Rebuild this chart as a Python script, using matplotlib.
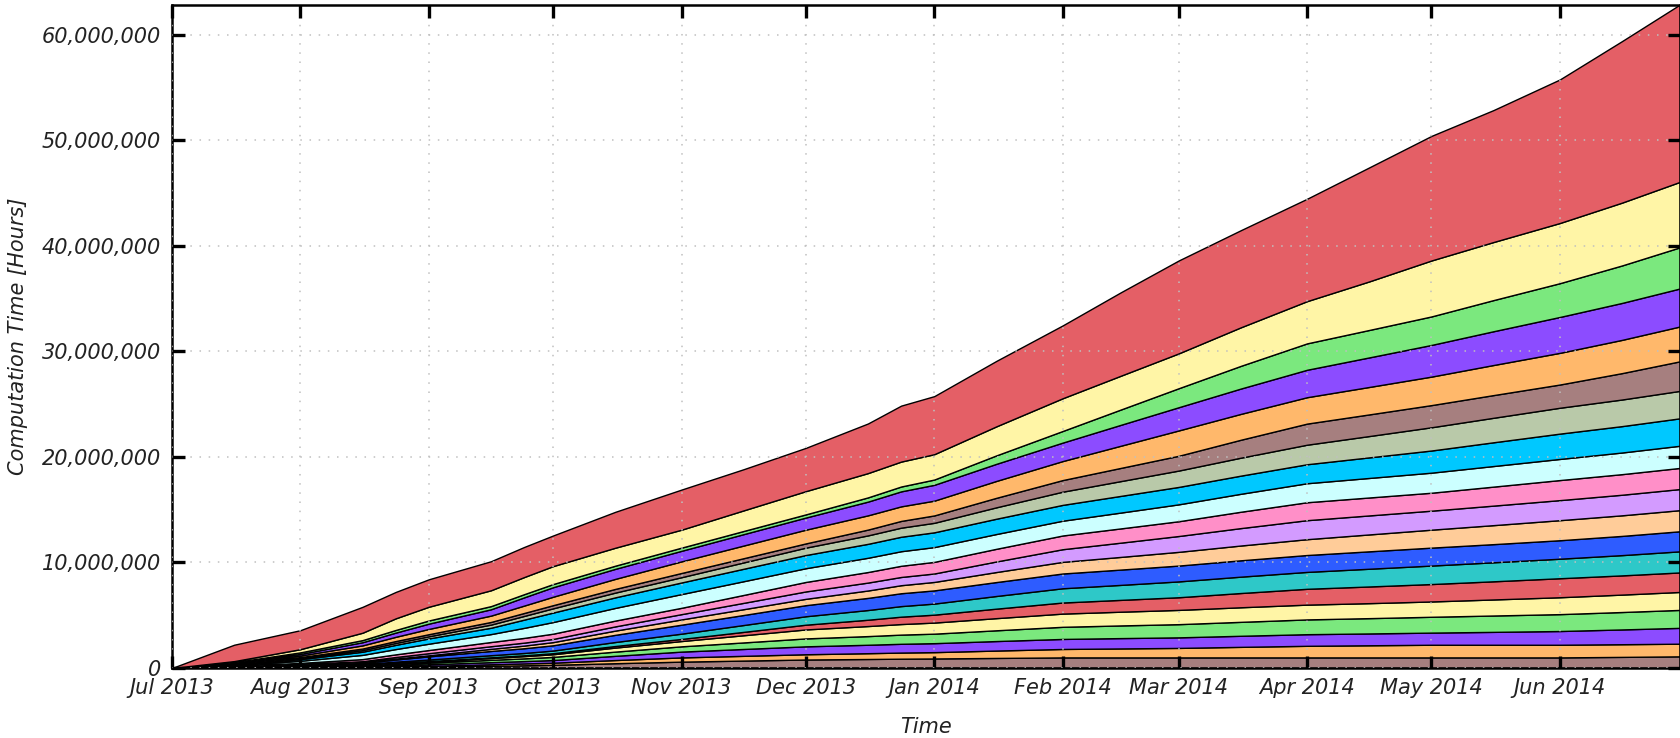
import datetime as dt
import matplotlib
matplotlib.use("Agg")
import matplotlib.pyplot as plt
import matplotlib.dates as mdates
import matplotlib.ticker as mticker
import numpy as np

# sample dates (roughly twice a month, a few extra where the curve bends)
dates = [dt.date(2013, 7, 1), dt.date(2013, 7, 16), dt.date(2013, 8, 1), dt.date(2013, 8, 16),
         dt.date(2013, 8, 24), dt.date(2013, 9, 1), dt.date(2013, 9, 16), dt.date(2013, 9, 24),
         dt.date(2013, 10, 1), dt.date(2013, 10, 16), dt.date(2013, 11, 1), dt.date(2013, 11, 16),
         dt.date(2013, 12, 1), dt.date(2013, 12, 16), dt.date(2013, 12, 24), dt.date(2014, 1, 1),
         dt.date(2014, 1, 16), dt.date(2014, 2, 1), dt.date(2014, 2, 15), dt.date(2014, 3, 1),
         dt.date(2014, 3, 16), dt.date(2014, 4, 1), dt.date(2014, 4, 16), dt.date(2014, 5, 1),
         dt.date(2014, 5, 16), dt.date(2014, 6, 1), dt.date(2014, 6, 16), dt.date(2014, 6, 30)]

# cumulative hours per series, in millions (bottom layer first)
s01 = [0, .01, .03, .06, .08, .1, .2, .25, .3, .45, .6, .7, .8, .85, .88, .9, .95, 1.0, 1.0, 1.0, 1.0, 1.0, 1.0, 1.0, 1.0, 1.0, 1.05, 1.1]
s02 = [0, .01, .02, .04, .07, .1, .15, .18, .2, .3, .4, .45, .5, .55, .58, .6, .7, .8, .85, .9, 1.0, 1.1, 1.15, 1.2, 1.2, 1.2, 1.2, 1.2]
s03 = [0, .01, .03, .05, .1, .15, .2, .22, .25, .4, .55, .65, .75, .8, .83, .85, .9, .95, .98, 1.0, 1.05, 1.1, 1.12, 1.15, 1.22, 1.3, 1.4, 1.5]
s04 = [0, .01, .04, .05, .1, .15, .22, .26, .3, .4, .5, .62, .75, .82, .87, .9, 1.02, 1.15, 1.2, 1.25, 1.32, 1.4, 1.45, 1.5, 1.55, 1.6, 1.65, 1.7]
s05 = [0, .01, .03, .05, .08, .1, .17, .21, .25, .38, .5, .68, .85, .95, 1.0, 1.05, 1.15, 1.25, 1.3, 1.35, 1.38, 1.4, 1.42, 1.45, 1.52, 1.6, 1.65, 1.7]
s06 = [0, .01, .03, .04, .05, .05, .07, .08, .1, .15, .2, .32, .45, .6, .7, .75, .9, 1.05, 1.12, 1.2, 1.35, 1.5, 1.58, 1.65, 1.72, 1.8, 1.82, 1.85]
s07 = [0, .02, .05, .08, .12, .15, .2, .22, .25, .38, .5, .65, .8, .92, 1.0, 1.05, 1.2, 1.35, 1.42, 1.5, 1.55, 1.6, 1.68, 1.75, 1.8, 1.85, 1.92, 2.0]
s08 = [0, .02, .05, .1, .2, .3, .4, .45, .5, .68, .85, .95, 1.05, 1.15, 1.22, 1.25, 1.32, 1.4, 1.45, 1.5, 1.55, 1.6, 1.65, 1.7, 1.72, 1.75, 1.82, 1.9]
s09 = [0, .02, .05, .07, .09, .1, .2, .25, .3, .4, .5, .55, .6, .7, .76, .8, .95, 1.1, 1.2, 1.3, 1.4, 1.5, 1.6, 1.7, 1.8, 1.9, 1.95, 2.0]
s10 = [0, .03, .05, .1, .15, .2, .25, .28, .3, .4, .5, .6, .7, .75, .78, .8, 1.0, 1.2, 1.35, 1.5, 1.65, 1.8, 1.8, 1.8, 1.85, 1.9, 1.95, 2.0]
s11 = [0, .05, .1, .2, .25, .3, .4, .45, .5, .55, .6, .75, .9, 1.0, 1.06, 1.1, 1.2, 1.3, 1.35, 1.4, 1.55, 1.7, 1.7, 1.7, 1.8, 1.9, 1.95, 2.0]
s12 = [0, .05, .2, .4, .5, .6, .75, .95, 1.1, 1.2, 1.3, 1.3, 1.3, 1.35, 1.38, 1.4, 1.4, 1.4, 1.5, 1.6, 1.7, 1.8, 1.85, 1.9, 1.95, 2.0, 2.05, 2.1]
s13 = [0, .05, .15, .3, .4, .5, .6, .78, .9, 1.0, 1.1, 1.18, 1.25, 1.32, 1.37, 1.4, 1.45, 1.5, 1.58, 1.65, 1.72, 1.8, 1.95, 2.1, 2.25, 2.4, 2.5, 2.6]
s14 = [0, .05, .1, .15, .18, .2, .3, .35, .4, .45, .5, .6, .7, .8, .86, .9, 1.08, 1.25, 1.4, 1.55, 1.7, 1.85, 2.02, 2.2, 2.32, 2.45, 2.52, 2.6]
s15 = [0, .05, .1, .15, .18, .2, .25, .28, .3, .35, .4, .4, .4, .55, .64, .7, .9, 1.1, 1.25, 1.4, 1.7, 2.0, 2.05, 2.1, 2.15, 2.2, 2.5, 2.8]
s16 = [0, .05, .15, .3, .4, .5, .6, .7, .8, .95, 1.1, 1.2, 1.3, 1.35, 1.38, 1.4, 1.6, 1.8, 2.1, 2.4, 2.45, 2.5, 2.6, 2.7, 2.85, 3.0, 3.15, 3.3]
s17 = [0, .05, .15, .3, .4, .5, .6, .78, .9, .95, 1.0, 1.08, 1.15, 1.3, 1.42, 1.5, 1.62, 1.75, 1.98, 2.2, 2.4, 2.6, 2.8, 3.0, 3.2, 3.4, 3.5, 3.6]
s18 = [0, .05, .15, .2, .25, .3, .3, .3, .3, .3, .3, .3, .3, .4, .46, .5, .8, 1.1, 1.45, 1.8, 2.15, 2.5, 2.6, 2.7, 2.95, 3.2, 3.55, 3.9]
s19 = [0, .1, .3, .7, 1.1, 1.3, 1.5, 1.62, 1.7, 1.7, 1.7, 1.95, 2.2, 2.3, 2.36, 2.4, 2.75, 3.1, 3.2, 3.3, 3.65, 4.0, 4.6, 5.3, 5.5, 5.7, 5.95, 6.2]
s20 = [0, 1.55, 1.8, 2.45, 2.5, 2.6, 2.75, 2.85, 2.9, 3.4, 3.8, 3.9, 4.1, 4.7, 5.3, 5.5, 6.2, 6.9, 7.9, 8.8, 9.2, 9.7, 10.8, 11.8, 12.5, 13.6, 15.3, 16.8]

series = [s01, s02, s03, s04, s05, s06, s07, s08, s09, s10,
          s11, s12, s13, s14, s15, s16, s17, s18, s19, s20]

palette = ['#a67f7f', '#ffb86b', '#8c4cff', '#7be87e', '#fff5a6', '#e45f66', '#2ec8c8',
           '#2e5cff', '#ffcc99', '#d39bff', '#ff8fc8', '#ccffff', '#00c8ff', '#b9c9a9']
colors = [palette[i % len(palette)] for i in range(len(series))]

font = dict(family='DejaVu Sans', style='oblique')
fsize = 15

fig = plt.figure(figsize=(16.81, 7.38), dpi=100)
ax = fig.add_axes([0.1023, 0.0949, 0.8971, 0.8983])

ax.stackplot(dates, *[np.array(s) * 1e6 for s in series], colors=colors,
             edgecolor='black', linewidth=1.0)

ax.set_xlim(dates[0], dates[-1])
ax.set_ylim(0, 62.8e6)
ax.xaxis.set_major_locator(mdates.MonthLocator())
ax.xaxis.set_major_formatter(mdates.DateFormatter('%b %Y'))
ax.yaxis.set_major_locator(mticker.MultipleLocator(10e6))
ax.yaxis.set_major_formatter(mticker.FuncFormatter(lambda v, p: '{:,.0f}'.format(v)))

ax.grid(True, linestyle=(0, (1, 5)), color='#c0c0c0', linewidth=1.1)
ax.set_axisbelow(False)
ax.tick_params(direction='in', length=9, width=2.4, top=True, right=True,
               colors='black', labelcolor='#222222', labelsize=fsize)
ax.tick_params(axis='y', pad=8)
ax.tick_params(axis='x', pad=7)
for lab in ax.get_xticklabels() + ax.get_yticklabels():
    lab.set_fontproperties(dict(font, size=fsize))
for sp in ax.spines.values():
    sp.set_linewidth(1.8)

ax.set_xlabel('Time', fontsize=fsize, color='#222222', labelpad=14, **font)
ax.set_ylabel('Computation Time [Hours]', fontsize=fsize, color='#222222', labelpad=10, **font)

fig.savefig('out.png', dpi=100)
